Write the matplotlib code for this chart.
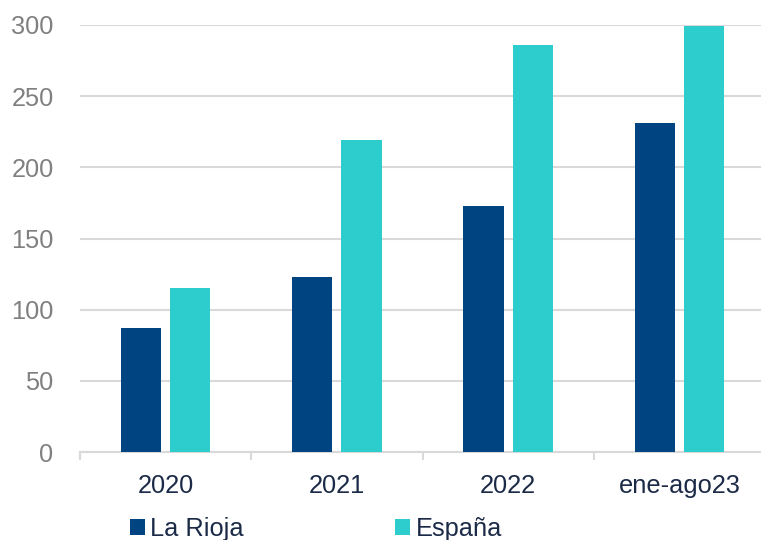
import matplotlib
matplotlib.use("Agg")
import matplotlib.pyplot as plt
import numpy as np

categories = ["2020", "2021", "2022", "ene-ago23"]
la_rioja = [87, 123, 173, 231]
espana = [115, 219, 286, 299]
series_names = ["La Rioja", "España"]
y_ticks = [0, 50, 100, 150, 200, 250, 300]

c_rioja = "#004481"
c_espana = "#2DCCCD"
grid_c = "#D9D9D9"
label_c = "#1B2A47"
ytick_c = "#808080"

plt.rcParams["font.family"] = ["Liberation Sans", "DejaVu Sans"]

fig = plt.figure(figsize=(7.61, 5.40), dpi=100)
ax = fig.add_axes([80 / 761, 1 - 452 / 540, 685 / 761, 427 / 540])

x = np.arange(len(categories))
w = 0.235
off = 0.144
ax.bar(x - off, la_rioja, w, color=c_rioja, label=series_names[0], zorder=3)
ax.bar(x + off, espana, w, color=c_espana, label=series_names[1], zorder=3)

ax.set_xlim(-0.5, len(categories) - 0.5)
ax.set_ylim(0, 300)
ax.set_yticks(y_ticks)
ax.yaxis.grid(True, color=grid_c, linewidth=1.5, zorder=0)
ax.set_axisbelow(True)

for s in ["top", "right", "left"]:
    ax.spines[s].set_visible(False)
ax.spines["bottom"].set_color(grid_c)
ax.spines["bottom"].set_linewidth(1.5)

ax.tick_params(axis="y", length=0, pad=19, labelsize=18.3, labelcolor=ytick_c)
ax.set_xticks(x)
ax.set_xticklabels(categories)
ax.tick_params(axis="x", which="major", length=0, pad=16, labelsize=18.3, labelcolor=label_c)
ax.set_xticks(np.arange(len(categories) + 1) - 0.5, minor=True)
ax.tick_params(axis="x", which="minor", length=6, width=1.5, color=grid_c)

leg = fig.legend(loc="center left", bbox_to_anchor=(130 / 761, 1 - 529 / 540),
                 ncol=2, frameon=False, fontsize=18.3, handlelength=0.58,
                 handleheight=0.6, handletextpad=0.22, columnspacing=5.95,
                 borderpad=0, borderaxespad=0)
for t in leg.get_texts():
    t.set_color(label_c)

fig.savefig("out.png", dpi=100)
